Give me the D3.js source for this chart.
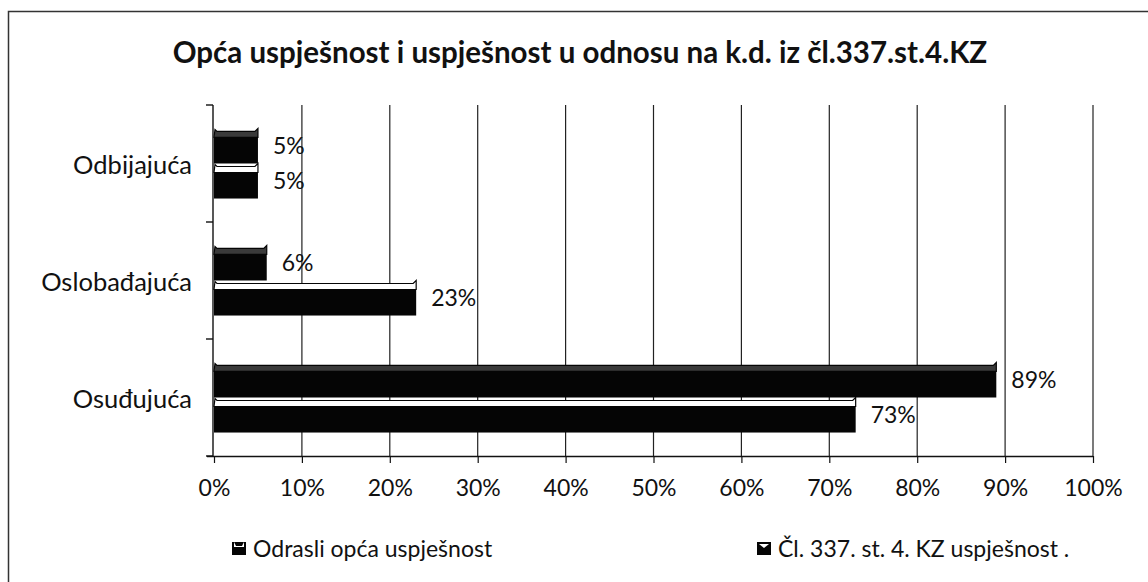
<!DOCTYPE html>
<html><head><meta charset="utf-8">
<script src="https://cdn.jsdelivr.net/npm/d3@7"></script>
<style>
html,body{margin:0;padding:0;background:#fff;}
svg{display:block;}
text{font-family:Lato, "Open Sans", sans-serif;fill:#111;}
</style></head>
<body>
<svg id="chart" width="1148" height="582"></svg>
<script>
const categories = ["Odbijajuća", "Oslobađajuća", "Osuđujuća"];
const seriesNames = ["Odrasli opća uspješnost", "Čl. 337. st. 4. KZ uspješnost ."];
const odrasliValues = [5, 6, 89];
const clanakValues = [5, 23, 73];
const xTickValues = [0, 10, 20, 30, 40, 50, 60, 70, 80, 90, 100];
const titleText = "Opća uspješnost i uspješnost u odnosu na k.d. iz čl.337.st.4.KZ";

const svg = d3.select("#chart");

// chart frame
svg.append("rect").attr("x", 8.5).attr("y", 11.5).attr("width", 1200).attr("height", 700)
  .attr("fill", "none").attr("stroke", "#333").attr("stroke-width", 1.5);

const x = d3.scaleLinear().domain([0, 100]).range([214, 1093]);
const y = d3.scaleBand().domain(categories).range([105, 456]);
const ys = d3.scaleBand().domain([0, 1]).range([0, y.bandwidth()]).paddingOuter(0.67);

// title
svg.append("text").attr("x", 580).attr("y", 63).attr("text-anchor", "middle")
  .style("font-weight", "bold").style("font-size", "29.5px").text(titleText);

// grid lines
svg.append("g").selectAll("line").data(xTickValues.filter(d => d > 0)).join("line")
  .attr("x1", d => x(d)).attr("x2", d => x(d))
  .attr("y1", 105).attr("y2", 456)
  .attr("stroke", "#222").attr("stroke-width", 1.2);

// x axis
const xAxis = svg.append("g").attr("transform", "translate(0,456)")
  .call(d3.axisBottom(x).tickValues(xTickValues).tickSize(7).tickPadding(8)
    .tickFormat(d => d + "%"));
xAxis.select(".domain").attr("d", `M${x(0) - 7},0.5H${x(100)}`).attr("stroke", "#111").attr("stroke-width", 1.4);
xAxis.selectAll(".tick line").attr("stroke", "#111").attr("stroke-width", 1.2);
xAxis.selectAll(".tick text").style("font-size", "23px").attr("fill", "#111")
  .attr("font-family", "Lato").attr("y", 24);

// y axis (category)
const yAxis = svg.append("g").attr("transform", `translate(${x(0) - 1},0)`);
yAxis.append("line").attr("x1", 0).attr("x2", 0).attr("y1", 105).attr("y2", 456)
  .attr("stroke", "#111").attr("stroke-width", 1.4);
yAxis.selectAll(".bt").data(d3.range(categories.length + 1)).join("line").attr("class", "bt")
  .attr("x1", -7).attr("x2", 0)
  .attr("y1", i => y.range()[0] + i * y.step()).attr("y2", i => y.range()[0] + i * y.step())
  .attr("stroke", "#111").attr("stroke-width", 1.4);
svg.append("g").selectAll("text").data(categories).join("text")
  .attr("x", 192).attr("y", d => y(d) + y.bandwidth() / 2 + 2)
  .attr("dy", "0.35em").attr("text-anchor", "end")
  .style("font-size", "25.5px").text(d => d);

// bars
const topH = 9;
const series = [
  { name: seriesNames[0], values: odrasliValues, topFill: "#3a3a3a" },
  { name: seriesNames[1], values: clanakValues, topFill: "#ffffff" }
];

series.forEach((s, si) => {
  const g = svg.append("g");
  const rows = categories.map((c, i) => ({ c, v: s.values[i] }));
  const by = d => y(d.c) + ys(si);
  // front face
  g.selectAll(".front").data(rows).join("rect").attr("class", "front")
    .attr("x", x(0)).attr("y", d => by(d) + topH)
    .attr("width", d => x(d.v) - x(0)).attr("height", ys.bandwidth() - topH)
    .attr("fill", "#050505");
  // top face
  g.selectAll(".top").data(rows).join("path").attr("class", "top")
    .attr("d", d => {
      const x0 = x(0), x1 = x(d.v), t = by(d);
      return `M${x0},${t + topH}L${x0 + 1},${t + 1}L${x0 + 3},${t + 3}L${x1 - 3},${t + 3}L${x1},${t}L${x1},${t + topH}Z`;
    })
    .attr("fill", s.topFill).attr("stroke", "#050505").attr("stroke-width", 1.2);
  // labels
  g.selectAll(".lbl").data(rows).join("text").attr("class", "lbl")
    .attr("x", d => x(d.v) + 15).attr("y", d => by(d) + ys.bandwidth() / 2)
    .attr("dy", "0.35em").style("font-size", "23px").text(d => d.v + "%");
});

// legend
const legX = [232, 757];
series.forEach((s, si) => {
  const lg = svg.append("g").attr("transform", `translate(${legX[si]},549)`);
  lg.append("rect").attr("x", 0).attr("y", -7).attr("width", 14).attr("height", 13).attr("fill", "#050505");
  if (si === 0) {
    lg.append("path").attr("d", "M2,-7L2,-2L12,-2L12,-7L10,-3L4,-3Z").attr("fill", "#fff");
  } else {
    lg.append("path").attr("d", "M2,-5L12,-5L7,-1Z").attr("fill", "#fff");
  }
  lg.append("text").attr("x", 21).attr("y", 0).attr("dy", "0.35em")
    .style("font-size", "23px").text(s.name);
});
</script>
</body></html>
